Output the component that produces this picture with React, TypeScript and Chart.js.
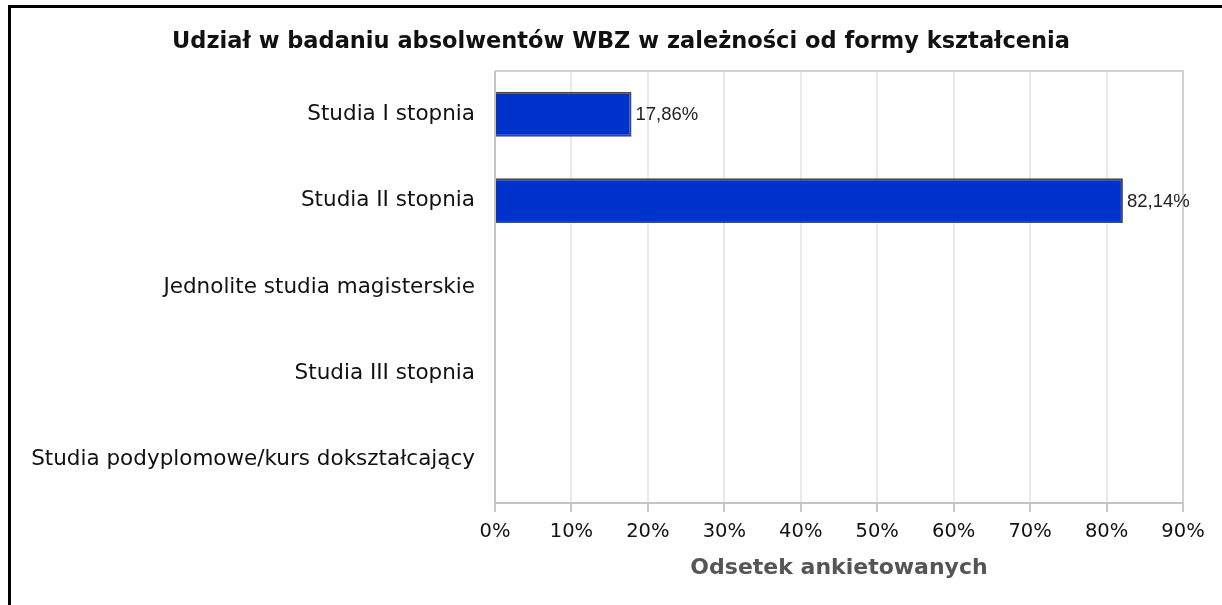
import React, { useEffect, useRef } from "react";
import { Chart, registerables } from "chart.js";

Chart.register(...registerables);

const categories = [
  "Studia I stopnia",
  "Studia II stopnia",
  "Jednolite studia magisterskie",
  "Studia III stopnia",
  "Studia podyplomowe/kurs dokształcający",
];
const values = [17.86, 82.14, 0, 0, 0];
const xTicks = [0, 10, 20, 30, 40, 50, 60, 70, 80, 90];
const titleText = "Udział w badaniu absolwentów WBZ w zależności od formy kształcenia";
const xTitle = "Odsetek ankietowanych";

const boxPlugin = {
  id: "plotBox",
  beforeDatasetsDraw(chart: any) {
    const { ctx, chartArea: a } = chart;
    ctx.save();
    ctx.lineWidth = 2;
    ctx.strokeStyle = "#d2d2d2";
    ctx.beginPath();
    ctx.moveTo(a.left, a.top);
    ctx.lineTo(a.right, a.top);
    ctx.lineTo(a.right, a.bottom);
    ctx.stroke();
    ctx.strokeStyle = "#c4c4c4";
    ctx.beginPath();
    ctx.moveTo(a.left, a.top);
    ctx.lineTo(a.left, a.bottom);
    ctx.lineTo(a.right, a.bottom);
    ctx.stroke();
    ctx.restore();
  },
};

const titlePlugin = {
  id: "topTitle",
  afterDraw(chart: any) {
    const { ctx } = chart;
    ctx.save();
    ctx.font = "bold 22.5px 'DejaVu Sans', sans-serif";
    ctx.fillStyle = "#111";
    ctx.textAlign = "center";
    ctx.textBaseline = "middle";
    ctx.fillText(titleText, 621, 42);
    ctx.restore();
  },
};

const labelPlugin = {
  id: "barLabels",
  afterDatasetsDraw(chart: any) {
    const { ctx } = chart;
    const meta = chart.getDatasetMeta(0);
    ctx.save();
    ctx.font = "18.5px 'Liberation Sans', Arial, sans-serif";
    ctx.fillStyle = "#222";
    ctx.textAlign = "left";
    ctx.textBaseline = "middle";
    meta.data.forEach((el: any, i: number) => {
      const v = values[i];
      if (!v) return;
      ctx.fillText(v.toFixed(2).replace(".", ",") + "%", el.x + 4, el.y + 1);
    });
    ctx.restore();
  },
};

export default function App() {
  const ref = useRef<HTMLCanvasElement>(null);
  useEffect(() => {
    if (!ref.current) return;
    const chart = new Chart(ref.current, {
      type: "bar",
      data: {
        labels: categories,
        datasets: [
          {
            data: values,
            backgroundColor: "#0033cc",
            borderColor: "#4a4a4a",
            borderWidth: 2,
            barPercentage: 0.52,
            categoryPercentage: 1,
          },
        ],
      },
      options: {
        indexAxis: "y",
        animation: false,
        responsive: false,
        maintainAspectRatio: false,
        layout: { padding: { left: 0, right: 39, top: 71, bottom: 0 } },
        plugins: {
          legend: { display: false },
          tooltip: { enabled: false },
          title: { display: false },
        },
        scales: {
          x: {
            type: "linear",
            min: 0,
            max: 90,
            afterBuildTicks(scale: any) {
              scale.ticks = xTicks.map((v) => ({ value: v }));
            },
            afterFit(scale: any) {
              scale.height = 102;
            },
            ticks: {
              padding: 8,
              color: "#111",
              font: { family: "'DejaVu Sans', sans-serif", size: 19.5 },
              callback: (v: any) => v + "%",
            },
            grid: {
              color: "#eaeaea",
              lineWidth: 2,
              tickColor: "#c8c8c8",
              tickLength: 9,
              tickWidth: 2,
            },
            border: { display: false },
            title: {
              display: true,
              text: xTitle,
              color: "#555",
              font: { family: "'DejaVu Sans', sans-serif", size: 22, weight: "bold" },
              padding: { top: 0, bottom: 24 },
            },
          },
          y: {
            afterFit(scale: any) {
              scale.width = 495;
            },
            ticks: {
              padding: 20,
              color: "#111",
              font: { family: "'DejaVu Sans', sans-serif", size: 21.5 },
            },
            grid: { display: false, drawTicks: false, tickLength: 0 },
            border: { display: false },
          },
        },
      },
      plugins: [boxPlugin, labelPlugin, titlePlugin],
    });
    return () => chart.destroy();
  }, []);

  return (
    <div style={{ position: "fixed", left: 0, top: 0, width: 1222, height: 605, overflow: "hidden", background: "#fff" }}>
      <div
        style={{
          position: "absolute",
          left: 8,
          top: 5,
          width: 1300,
          height: 700,
          borderTop: "3px solid #000",
          borderLeft: "3px solid #000",
        }}
      />
      <canvas ref={ref} width={1222} height={605} style={{ position: "absolute", left: 0, top: 0 }} />
    </div>
  );
}
